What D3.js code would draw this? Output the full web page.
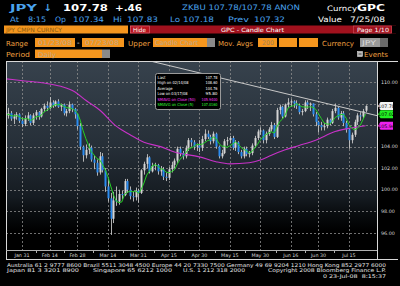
<!DOCTYPE html>
<html>
<head>
<meta charset="utf-8">
<script src="https://cdn.jsdelivr.net/npm/d3@7"></script>
<style>
  body { margin: 0; background: #000; }
  svg { display: block; font-family: "DejaVu Sans", sans-serif; }
</style>
</head>
<body>
<svg id="chart" width="400" height="286"></svg>
<script>
// trading days 01/23/08 - 07/23/08
const dates = [
  "01/23","01/24","01/25","01/28","01/29","01/30","01/31",
  "02/01","02/04","02/05","02/06","02/07","02/08","02/11","02/12","02/13","02/14","02/15","02/18","02/19","02/20","02/21","02/22","02/25","02/26","02/27","02/28","02/29",
  "03/03","03/04","03/05","03/06","03/07","03/10","03/11","03/12","03/13","03/14","03/17","03/18","03/19","03/20","03/21","03/24","03/25","03/26","03/27","03/28","03/31",
  "04/01","04/02","04/03","04/04","04/07","04/08","04/09","04/10","04/11","04/14","04/15","04/16","04/17","04/18","04/21","04/22","04/23","04/24","04/25","04/28","04/29","04/30",
  "05/01","05/02","05/05","05/06","05/07","05/08","05/09","05/12","05/13","05/14","05/15","05/16","05/19","05/20","05/21","05/22","05/23","05/26","05/27","05/28","05/29","05/30",
  "06/02","06/03","06/04","06/05","06/06","06/09","06/10","06/11","06/12","06/13","06/16","06/17","06/18","06/19","06/20","06/23","06/24","06/25","06/26","06/27","06/30",
  "07/01","07/02","07/03","07/04","07/07","07/08","07/09","07/10","07/11","07/14","07/15","07/16","07/17","07/18","07/21","07/22","07/23"
];

const open = [
  106.2,106.9,107.1,106.6,106.8,107.0,106.4,
  106.1,106.6,106.9,106.2,106.9,107.2,106.8,107.5,107.8,107.6,
  108.1,107.8,108.2,107.7,107.9,107.1,107.3,107.9,107.5,107.0,
  105.9,104.0,103.2,103.7,103.9,102.8,102.5,101.6,103.1,101.8,100.3,
  99.2,97.3,99.0,98.9,99.6,99.5,100.8,100.0,99.4,99.3,99.9,
  99.7,101.8,102.4,103.0,101.7,102.2,102.3,101.7,101.9,101.2,101.1,
  101.9,102.3,102.7,103.8,103.4,103.1,103.9,104.6,104.4,104.0,104.1,
  103.9,104.7,105.2,104.9,104.5,105.2,104.0,103.1,103.4,104.5,104.6,
  104.8,103.9,104.4,103.5,103.1,103.8,103.3,103.4,104.1,104.8,105.4,
  105.5,104.6,105.2,105.6,106.0,104.9,107.4,107.7,106.8,107.9,108.1,
  108.2,108.0,107.8,107.2,107.3,108.1,107.9,108.0,107.0,106.3,
  106.0,105.8,105.9,106.5,106.2,107.3,107.6,106.7,107.1,106.2,105.6,
  104.6,105.1,106.3,106.9,106.8,107.34
];
const high = [
  107.1,107.6,107.3,107.0,107.2,107.1,106.7,
  106.9,107.2,107.0,107.1,107.4,107.3,107.6,108.0,108.2,108.6,
  108.3,108.3,108.4,108.0,108.0,107.5,108.2,108.0,107.6,107.1,
  106.2,104.1,104.2,104.3,104.1,103.2,102.8,103.5,103.4,102.0,101.0,
  99.7,99.8,100.3,100.0,99.9,101.0,101.0,100.3,99.8,100.2,100.1,
  101.9,102.6,103.3,103.1,102.5,102.5,102.4,102.2,102.1,101.6,102.1,
  102.6,102.9,104.0,104.0,103.6,104.1,104.8,104.8,104.6,104.3,104.6,
  105.0,105.6,105.5,105.1,105.4,105.3,104.1,103.7,104.7,104.9,105.0,
  105.0,104.6,104.5,103.7,104.0,104.0,103.6,104.3,105.0,105.6,105.8,
  105.6,105.4,105.8,106.3,106.2,107.6,107.9,107.8,108.0,108.5,108.4,
  108.3,108.3,108.0,107.5,108.3,108.3,108.1,108.0,107.2,106.4,
  106.3,106.2,106.7,106.6,107.5,108.0,107.7,107.3,107.3,106.4,105.7,
  105.3,106.5,107.1,107.2,107.5,107.83
];
const low = [
  105.6,106.6,106.4,106.1,106.5,106.2,105.8,
  105.9,106.4,106.0,106.0,106.5,106.5,106.7,107.2,107.3,107.5,
  107.6,107.7,107.6,107.3,106.9,106.8,107.1,107.2,106.6,105.6,
  103.7,102.6,102.9,103.3,102.6,101.9,101.3,101.4,101.6,99.8,98.9,
  95.8,96.9,98.5,98.6,99.1,99.4,99.7,99.1,98.9,99.0,98.8,
  99.6,101.4,102.0,101.5,101.6,101.8,101.4,101.3,100.9,100.8,100.9,
  101.6,102.0,102.5,103.1,102.8,102.9,103.6,104.0,103.7,103.6,103.5,
  103.6,104.5,104.7,104.2,104.3,103.8,102.9,102.9,103.3,104.1,104.3,
  103.7,103.6,103.3,102.9,102.9,103.1,103.0,103.2,103.9,104.6,105.1,
  104.3,104.3,105.0,105.4,104.7,104.8,107.0,106.6,106.7,107.6,107.7,
  107.6,107.5,107.0,106.9,107.2,107.5,107.3,106.8,105.9,105.3,
  105.5,105.5,105.7,106.0,106.1,107.1,106.5,106.4,105.9,105.3,103.8,
  104.3,104.9,106.0,106.4,106.6,107.18
];
const close = [
  106.9,107.1,106.6,106.8,107.0,106.4,106.1,
  106.6,106.9,106.2,106.9,107.2,106.8,107.5,107.8,107.6,108.1,
  107.8,108.2,107.7,107.9,107.1,107.3,107.9,107.5,107.0,105.9,
  104.0,103.2,103.7,103.9,102.8,102.5,101.6,103.1,101.8,100.3,99.2,
  97.3,99.0,98.9,99.6,99.5,100.8,100.0,99.4,99.3,99.9,99.7,
  101.8,102.4,103.0,101.7,102.2,102.3,101.7,101.9,101.2,101.1,101.9,
  102.3,102.7,103.8,103.4,103.1,103.9,104.6,104.4,104.0,104.1,103.9,
  104.7,105.2,104.9,104.5,105.2,104.0,103.1,103.4,104.5,104.6,104.8,
  103.9,104.4,103.5,103.1,103.8,103.3,103.4,104.1,104.8,105.4,105.5,
  104.6,105.2,105.6,106.0,104.9,107.4,107.7,106.8,107.9,108.1,108.2,
  108.0,107.8,107.2,107.3,108.1,107.9,108.0,107.0,106.3,106.0,
  105.8,105.9,106.5,106.2,107.3,107.6,106.7,107.1,106.2,105.6,104.6,
  105.1,106.3,106.9,106.8,107.3,107.78
];

// 50 day moving average at these dates
const sma50Dates = ["01/23","02/01","02/12","02/20","02/27","03/04","03/11","03/19","03/26","04/02","04/10","04/17","04/30","05/08","05/15","05/26","05/30","06/05","06/12","06/19","06/27","07/08","07/15","07/23"];
const sma50Vals  = [110.3,110.1,109.9,109.6,109.1,108.3,107.4,105.9,105.1,104.4,104.0,103.5,103.05,102.6,102.4,102.5,102.75,103.2,103.7,104.1,104.6,105.4,105.7,105.94];

// trend line anchors
const trendDates = ["04/30","07/23"];
const trendVals = [110.85, 107.13];

const tickDates  = ["01/31","02/14","02/28","03/14","03/31","04/15","04/30","05/15","05/30","06/16","06/30","07/15"];
const tickLabels = ["Jan 31","Feb 14","Feb 28","Mar 14","Mar 31","Apr 15","Apr 30","May 15","May 30","Jun 16","Jun 30","Jul 15"];
const priceTicks = [96, 98, 100, 102, 104, 106, 108, 110];

const svg = d3.select('#chart');
const defs = svg.append('defs');

const plotL = 6, plotR = 377, plotT = 61, plotB = 250;

let x = d3.scaleLinear().domain([0, 130]).range([5.4, 365.6]);
let y = d3.scaleLinear().domain([94.4, 111.95]).range([plotB, plotT]);

function txt(g, xx, yy, s, o) {
  o = o || {};
  let t = g.append('text')
    .attr('x', xx).attr('y', yy)
    .attr('fill', o.fill || '#fff')
    .attr('font-size', o.size || 7)
    .attr('font-weight', o.bold ? 'bold' : 'normal')
    .attr('text-anchor', o.anchor || 'start')
    .style('white-space', 'pre')
    .text(s);
  if (o.len) t.attr('textLength', o.len).attr('lengthAdjust', 'spacingAndGlyphs');
  return t;
}

// ---------- header ----------
let head = svg.append('g');
const blue = '#4aa3ee';
txt(head, 10, 11, 'JPY', { fill: blue, size: 9.5, bold: true, len: 27 });
txt(head, 44, 11, '\u2193', { fill: blue, size: 9.5, bold: true });
txt(head, 63, 11, '107.78', { size: 9.5, bold: true, len: 45 });
txt(head, 115, 11, '+.46', { size: 9.5, bold: true, len: 27 });
txt(head, 182, 10, 'ZKBU 107.78/107.78 ANON', { fill: blue, size: 7.5, len: 118 });
txt(head, 327, 11, 'Curncy', { size: 7.5, len: 30 });
txt(head, 357, 11, 'GPC', { size: 9.5, bold: true, len: 28 });

[['At', 10, 9], ['8:15', 28, 18], ['Op', 55, 11], ['107.34', 73, 31], ['Hi', 113, 9],
 ['107.83', 127, 31], ['Lo', 170, 10], ['107.18', 183, 31], ['Prev', 228, 21], ['107.32', 254, 31]]
  .forEach(s => txt(head, s[1], 21.5, s[0], { fill: blue, size: 7.5, len: s[2] }));
txt(head, 318, 21.5, 'Value', { size: 7.5, len: 24 });
txt(head, 350, 21.5, '7/25/08', { size: 7.5, len: 35 });

// row 3 bars
const orange = '#f5961e';
head.append('rect').attr('x', 4).attr('y', 25.5).attr('width', 124).attr('height', 8).attr('fill', orange);
txt(head, 6, 32.2, 'JPY CMPN CURNCY', { fill: '#8a5a10', size: 6, len: 56 });
head.append('rect').attr('x', 130).attr('y', 25.5).attr('width', 266).attr('height', 8).attr('fill', '#a0111d');
head.append('rect').attr('x', 130.5).attr('y', 26).attr('width', 19).attr('height', 7).attr('fill', '#b8141e').attr('stroke', '#e07080').attr('stroke-width', 0.6);
txt(head, 133, 32, 'Hide', { size: 5.8, len: 13 });
txt(head, 221, 32, 'GPC - Candle Chart', { size: 5.8, len: 63 });
head.append('rect').attr('x', 353.5).attr('y', 26).attr('width', 38).attr('height', 7).attr('fill', '#a0111d').attr('stroke', '#d05060').attr('stroke-width', 0.6);
txt(head, 357, 32, 'Page 1/10', { size: 5.8, len: 32 });
head.append('rect').attr('x', 392).attr('y', 25.5).attr('width', 8).attr('height', 8).attr('fill', '#000');

// row 4 and 5 controls
const labelOrange = '#f0a040';
const boxText = '#bfa888';
function box(xx, yy, w, h, fill) {
  head.append('rect').attr('x', xx).attr('y', yy).attr('width', w).attr('height', h).attr('fill', fill || orange);
}
txt(head, 6, 45.5, 'Range', { fill: labelOrange, size: 7, len: 22 });
box(35, 38, 40, 9); txt(head, 38, 45.3, '01/23/08', { fill: boxText, size: 6.5, len: 34 });
txt(head, 77, 45.3, '-', { size: 7 });
box(82, 38, 42, 9); txt(head, 85, 45.3, '07/23/08', { fill: boxText, size: 6.5, len: 34 });
txt(head, 128, 45.5, 'Upper', { fill: labelOrange, size: 7, len: 22 });
box(153, 38, 54, 9); txt(head, 155, 45.3, 'Candle Chart', { fill: boxText, size: 6.5, len: 43 });
box(207, 38, 8, 9, '#8a8a8a');
txt(head, 218, 45.5, 'Mov. Avgs', { fill: labelOrange, size: 7, len: 35 });
box(258, 38, 19, 9); txt(head, 262, 45.3, '200', { fill: '#a58050', size: 6.5, len: 12 });
box(279, 38, 18, 9);
box(299, 38, 19, 9);
txt(head, 322, 45.5, 'Currency', { fill: labelOrange, size: 7, len: 32 });
box(360, 38, 20, 9, '#9a9a9a'); txt(head, 362, 45.3, 'JPY', { fill: '#dcdcdc', size: 6.5, len: 14 });
box(380, 38, 8, 9, '#6a6a6a');

txt(head, 6, 57, 'Period', { fill: labelOrange, size: 7, len: 24 });
box(35, 49.5, 67, 8.5); txt(head, 38, 56.5, 'Daily', { fill: boxText, size: 6.5, len: 18 });
box(102, 49.5, 8, 8.5, '#8a8a8a');
head.append('rect').attr('x', 357.5).attr('y', 51.5).attr('width', 5).attr('height', 5).attr('fill', '#bbb').attr('stroke', '#eee').attr('stroke-width', 0.5);
head.append('line').attr('x1', 358.5).attr('x2', 361.5).attr('y1', 54).attr('y2', 54).attr('stroke', '#222').attr('stroke-width', 0.8);
txt(head, 364, 57, 'Events', { fill: labelOrange, size: 7, len: 24 });

// ---------- plot background ----------
let grad = defs.append('linearGradient').attr('id', 'bg').attr('x1', 0).attr('x2', 0).attr('y1', 0).attr('y2', 1);
[[0, '#37424d'], [0.45, '#262f38'], [0.72, '#151b21'], [0.8, '#0a0d10'], [0.9, '#000']]
  .forEach(s => grad.append('stop').attr('offset', s[0]).attr('stop-color', s[1]));
defs.append('clipPath').attr('id', 'clip').append('rect')
  .attr('x', plotL).attr('y', plotT).attr('width', plotR - plotL).attr('height', plotB - plotT);

svg.append('rect').attr('x', plotL).attr('y', plotT).attr('width', plotR - plotL).attr('height', plotB - plotT)
  .attr('fill', 'url(#bg)');

// grid
let grid = svg.append('g').attr('stroke', '#8c8c8c').attr('stroke-width', 0.8).attr('stroke-dasharray', '2,2');
grid.selectAll('line.h').data(priceTicks).join('line')
  .attr('x1', plotL).attr('x2', plotR + 3)
  .attr('y1', d => Math.round(y(d)) + 0.5).attr('y2', d => Math.round(y(d)) + 0.5);
const tickIdx = tickDates.map(d => dates.indexOf(d));
grid.selectAll('line.v').data(tickIdx).join('line')
  .attr('x1', d => Math.round(x(d)) + 0.5).attr('x2', d => Math.round(x(d)) + 0.5)
  .attr('y1', plotT).attr('y2', plotB);

// ---------- candles ----------
const data = dates.map((d, i) => ({ i: i, d: d, o: open[i], h: high[i], l: low[i], c: close[i] }));
let plot = svg.append('g').attr('clip-path', 'url(#clip)');

plot.append('g').selectAll('line').data(data).join('line')
  .attr('x1', d => Math.round(x(d.i)) + 0.5).attr('x2', d => Math.round(x(d.i)) + 0.5)
  .attr('y1', d => y(d.h)).attr('y2', d => y(d.l))
  .attr('stroke', '#c4c4c4').attr('stroke-width', 0.9);

plot.append('g').selectAll('rect').data(data).join('rect')
  .attr('x', d => Math.round(x(d.i)) - 0.5).attr('width', 2)
  .attr('y', d => y(Math.max(d.o, d.c)))
  .attr('height', d => Math.max(0.8, Math.abs(y(d.o) - y(d.c))))
  .attr('fill', d => d.c >= d.o ? '#d4d4d4' : '#2b8cf0');

// moving averages
let sma5 = data.map((d, i) => {
  let w = close.slice(Math.max(0, i - 4), i + 1);
  return { i: i, v: d3.mean(w) };
});
let sma50 = sma50Dates.map((d, k) => ({ i: dates.indexOf(d), v: sma50Vals[k] }));

plot.append('path').datum(sma50)
  .attr('fill', 'none').attr('stroke', '#c832c8').attr('stroke-width', 1.1)
  .attr('d', d3.line().x(d => x(d.i)).y(d => y(d.v)).curve(d3.curveMonotoneX));
plot.append('path').datum(sma5)
  .attr('fill', 'none').attr('stroke', '#25d025').attr('stroke-width', 1)
  .attr('d', d3.line().x(d => x(d.i)).y(d => y(d.v)));

// trend line, extended to both plot edges
let t0 = dates.indexOf(trendDates[0]), t1 = dates.indexOf(trendDates[1]);
let slope = (trendVals[1] - trendVals[0]) / (t1 - t0);
let xEnd = x.invert(plotR), xStart = x.invert(plotL);
plot.append('line')
  .attr('x1', x(xStart)).attr('y1', y(trendVals[0] + slope * (xStart - t0)))
  .attr('x2', x(xEnd)).attr('y2', y(trendVals[0] + slope * (xEnd - t0)))
  .attr('stroke', '#c8c8c8').attr('stroke-width', 1);

// ---------- axes frame ----------
svg.append('rect').attr('x', plotR).attr('y', plotT).attr('width', 21).attr('height', 199).attr('fill', '#000');
svg.append('rect').attr('x', plotL).attr('y', plotB).attr('width', plotR - plotL).attr('height', 9.5).attr('fill', '#000');

let frame = svg.append('g').attr('stroke', '#d8d8d8').attr('stroke-width', 1).attr('fill', 'none');
frame.append('line').attr('x1', plotL + 0.5).attr('x2', plotL + 0.5).attr('y1', plotT).attr('y2', 260);
frame.append('line').attr('x1', plotR + 0.5).attr('x2', plotR + 0.5).attr('y1', plotT).attr('y2', 260);
frame.append('line').attr('x1', plotL).attr('x2', 398).attr('y1', plotT + 0.5).attr('y2', plotT + 0.5);
frame.append('line').attr('x1', plotL).attr('x2', 398).attr('y1', 259.5).attr('y2', 259.5);
frame.append('line').attr('x1', plotL).attr('x2', plotR).attr('y1', plotB + 0.5).attr('y2', plotB + 0.5).attr('stroke', '#b0b0b0');

// x axis labels
let xAxis = svg.append('g');
xAxis.selectAll('text').data(tickIdx).join('text')
  .attr('x', d => x(d)).attr('y', 256.5)
  .attr('text-anchor', 'middle').attr('font-size', 4.8).attr('fill', '#dcdcdc')
  .text((d, k) => tickLabels[k]);
let minor = tickIdx.slice(1).map((d, k) => (d + tickIdx[k]) / 2);
xAxis.selectAll('line').data(minor).join('line')
  .attr('x1', d => Math.round(x(d)) + 0.5).attr('x2', d => Math.round(x(d)) + 0.5)
  .attr('y1', plotB + 1).attr('y2', plotB + 3).attr('stroke', '#ddd').attr('stroke-width', 0.8);

// value tags on the right axis
const last = close[close.length - 1];
const tags = [
  { v: last, fill: '#f4f4f4', label: last.toFixed(2) },
  { v: sma5[sma5.length - 1].v, fill: '#22ee22', label: sma5[sma5.length - 1].v.toFixed(2) },
  { v: sma50Vals[sma50Vals.length - 1], fill: '#ee22ee', label: sma50Vals[sma50Vals.length - 1].toFixed(2) }
];

// y axis labels (right); the ones sitting under a tag are hidden, as on the terminal
let yAxis = svg.append('g');
let shownTicks = priceTicks.filter(p => !tags.some(t => Math.abs(y(t.v) - y(p)) < 7));
yAxis.selectAll('text').data(shownTicks).join('text')
  .attr('x', 381).attr('y', d => y(d) + 1.8)
  .attr('font-size', 4.8).attr('fill', '#dcdcdc')
  .text(d => d.toFixed(2));

let tg = yAxis.selectAll('g.tag').data(tags).join('g').attr('transform', d => `translate(0,${y(d.v)})`);
tg.append('path').attr('d', 'M378,0 L380.5,-4 L393,-4 L393,4 L380.5,4 Z').attr('fill', d => d.fill);
tg.append('text').attr('x', 386.5).attr('y', 1.8).attr('text-anchor', 'middle')
  .attr('font-size', 4.8).attr('fill', '#000').text(d => d.label);

// ---------- info box ----------
let hiIdx = d3.maxIndex(high), loIdx = d3.minIndex(low);
let info = svg.append('g');
info.append('rect').attr('x', 155.5).attr('y', 73.5).attr('width', 65).attr('height', 36).attr('rx', 2)
  .attr('fill', '#000').attr('stroke', '#9a9a9a').attr('stroke-width', 1);
const rows = [
  ['Last', last.toFixed(2), '#fff', 8],
  ['High on ' + dates[hiIdx] + '/08', high[hiIdx].toFixed(2), '#fff', 31],
  ['Average', d3.mean(close).toFixed(2), '#fff', 15],
  ['Low on ' + dates[loIdx] + '/08', low[loIdx].toFixed(2), '#fff', 30],
  ['SMAVG on Close (50)', sma50Vals[sma50Vals.length - 1].toFixed(4), '#ff33ff', 38],
  ['SMAVG on Close (5)', sma5[sma5.length - 1].v.toFixed(4), '#33ff33', 36]
];
rows.forEach((r, k) => {
  let yy = 78.6 + k * 5.5;
  txt(info, 157.5, yy, r[0], { fill: r[2], size: 4, len: r[3] });
  txt(info, 217.5, yy, r[1], { fill: r[2], size: 4, anchor: 'end', len: r[1].length > 6 ? 16 : 12 });
});

// ---------- footer ----------
let foot = svg.append('g');
const fc = '#e6e6e6';
txt(foot, 7, 266.5, 'Australia 61 2 9777 8600 Brazil 5511 3048 4500 Europe 44 20 7330 7500 Germany 49 69 9204 1210 Hong Kong 852 2977 6000', { fill: fc, size: 5.2, len: 379 });
txt(foot, 7, 272.3, 'Japan 81 3 3201 8900', { fill: fc, size: 5.2, len: 72 });
txt(foot, 93, 272.3, 'Singapore 65 6212 1000', { fill: fc, size: 5.2, len: 79 });
txt(foot, 183, 272.3, 'U.S. 1 212 318 2000', { fill: fc, size: 5.2, len: 62 });
txt(foot, 268, 272.3, 'Copyright 2008 Bloomberg Finance L.P.', { fill: fc, size: 5.2, len: 118 });
txt(foot, 323, 278, '0 23-Jul-08  8:15:37', { fill: fc, size: 5.2, len: 63 });
</script>
</body>
</html>
